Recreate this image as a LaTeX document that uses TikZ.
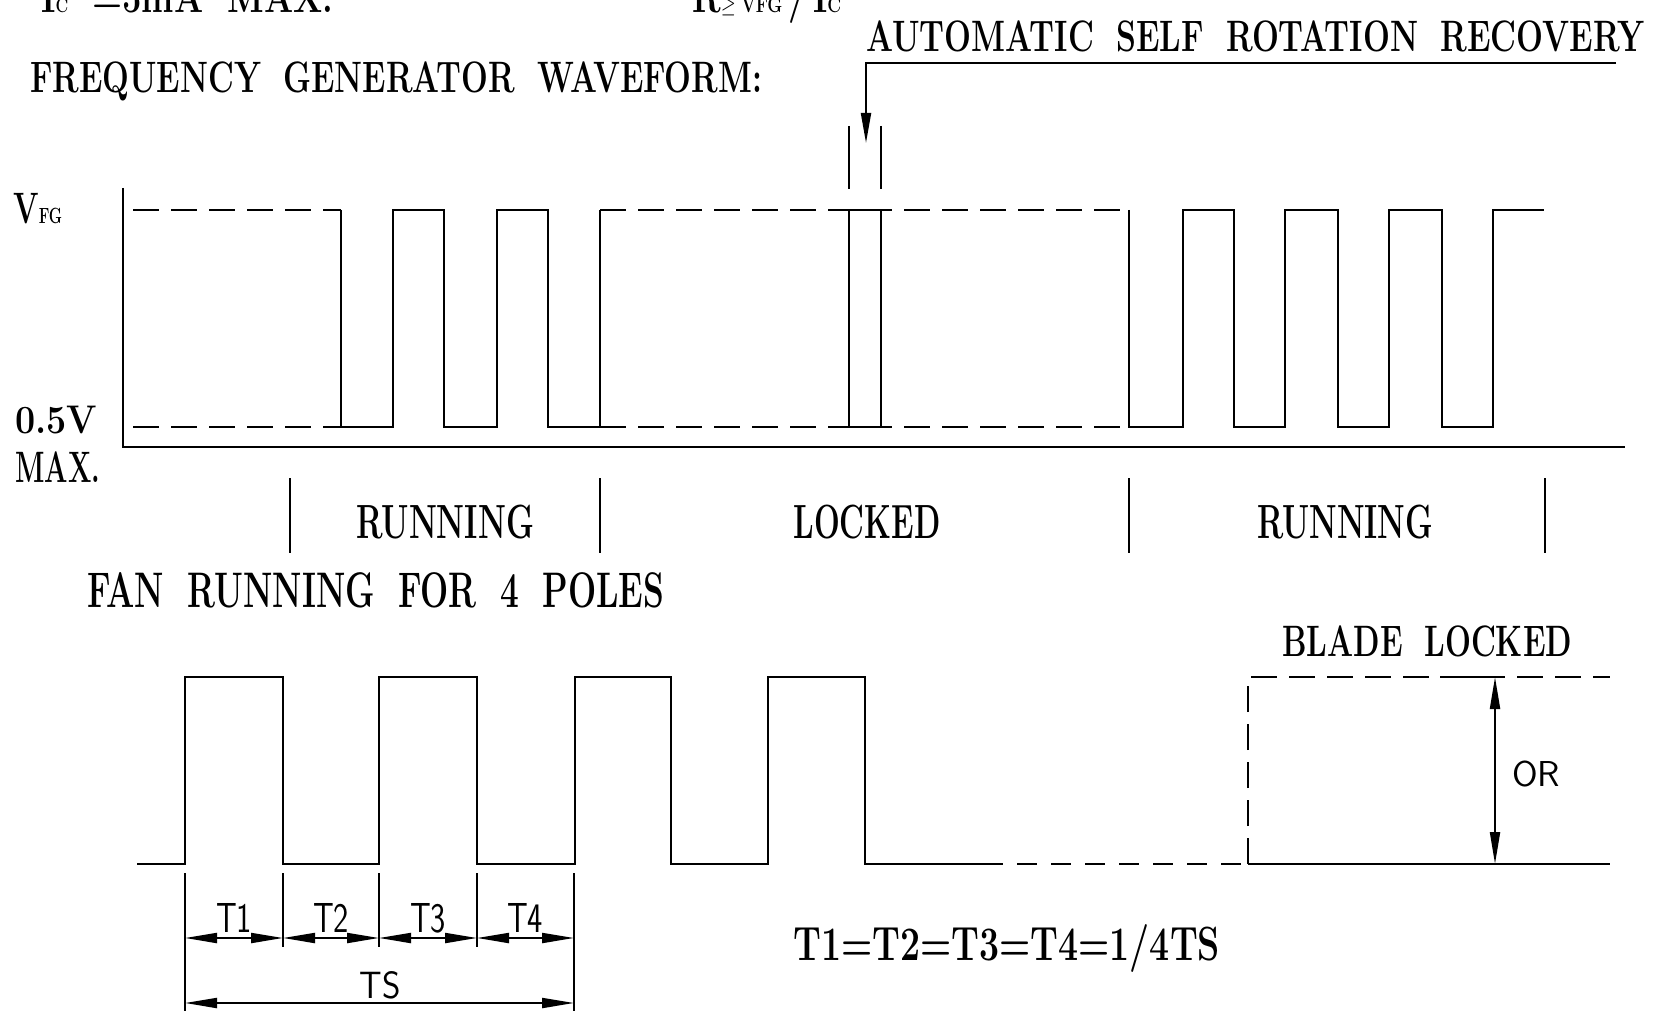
\documentclass[tikz,border=0pt]{standalone}
\usepackage{graphicx}
\usetikzlibrary{arrows.meta}
\newcommand{\fitw}[2]{\resizebox{#1pt}{\height}{#2}}
\newcommand{\ws}{\hspace{0.7em}}
\tikzset{
  wave/.style={line width=2pt},
  refline/.style={line width=2pt, dash pattern=on 26pt off 12pt},
  cadtxt/.style={inner sep=0pt, anchor=base west, font=\fontsize{44}{44}\selectfont\bfseries},
  cadlbl/.style={inner sep=0pt, anchor=base, font=\fontsize{48}{48}\selectfont\bfseries},
  dimtxt/.style={inner sep=0pt, anchor=base, font=\sffamily\fontsize{42}{42}\selectfont},
  dimarr/.style={line width=2pt, {Triangle[length=32pt,width=10pt]}-{Triangle[length=32pt,width=10pt]}}
}
\begin{document}
\begin{tikzpicture}[x=1pt,y=-1pt]
\useasboundingbox (0,0) rectangle (1665,1011);
\node[cadtxt] (icmax) at (41,13) {\fitw{292}{I{\fontsize{20}{20}\selectfont C}\ws =5mA\ws MAX.}};
\node[cadtxt] (rmin) at (692,13) {\fitw{149}{R$\geq$\,{\fontsize{22}{22}\selectfont VFG}\,/\,I{\fontsize{22}{22}\selectfont C}}};
\node[cadtxt] (title) at (30,93) {\fitw{732}{FREQUENCY\ws GENERATOR\ws WAVEFORM:}};
\node[cadtxt] (asr) at (866,52) {\fitw{778}{AUTOMATIC\ws SELF\ws ROTATION\ws RECOVERY}};
\coordinate (asrend) at (1616,63);
\coordinate (asrtip) at (866,143);
\draw[wave,-{Triangle[length=30pt,width=10pt]}] (asrend) -| (asrtip);
\draw[wave] (849,126) -- (849,189);
\draw[wave] (881,126) -- (881,189);
\node[cadtxt] (vfg) at (13,223) {\fitw{49}{V{\fontsize{22}{22}\selectfont FG}}};
\node[cadtxt, font=\fontsize{40}{40}\selectfont\bfseries] (vlow) at (15,433) {\fitw{82}{0.5V}};
\node[cadtxt] (vmax) at (15,482) {\fitw{85}{MAX.}};
\draw[line width=2.5pt] (123,188) -- (123,447) -- (1625,447);
\draw[refline] (133,210) -- (341,210);
\draw[refline] (133,427) -- (341,427);
\draw[refline] (600,210) -- (1129,210);
\draw[refline] (600,427) -- (1129,427);
\draw[wave] (341,210) -- (341,427) -- (393,427) -- (393,210) -- (444,210) -- (444,427) -- (497,427) -- (497,210) -- (548,210) -- (548,427) -- (600,427) -- (600,210);
\draw[wave] (849,210) rectangle (881,427);
\draw[wave] (1129,210) -- (1129,427) -- (1183,427) -- (1183,210) -- (1234,210) -- (1234,427) -- (1285,427) -- (1285,210) -- (1338,210) -- (1338,427) -- (1389,427) -- (1389,210) -- (1442,210) -- (1442,427) -- (1493,427) -- (1493,210) -- (1544,210);
\foreach \x in {290,600,1129,1545}
  \draw[wave] (\x,478) -- (\x,553);
\node[cadlbl] (run1) at (445,538) {\fitw{178}{RUNNING}};
\node[cadlbl] (lock) at (867,538) {\fitw{147}{LOCKED}};
\node[cadlbl] (run2) at (1345,538) {\fitw{176}{RUNNING}};
\node[cadtxt, font=\fontsize{50}{50}\selectfont\bfseries] (fan) at (87,607) {\fitw{577}{FAN\ws RUNNING\ws FOR\ws 4\ws POLES}};
\node[cadtxt] (blade) at (1282,656) {\fitw{290}{BLADE\ws LOCKED}};
\draw[wave] (137,864) -- (185,864) -- (185,677) -- (283,677) -- (283,864) -- (379,864) -- (379,677) -- (477,677) -- (477,864) -- (575,864) -- (575,677) -- (671,677) -- (671,864) -- (768,864) -- (768,677) -- (865,677) -- (865,864) -- (983,864);
\draw[refline, dash pattern=on 20pt off 14pt] (983,864) -- (1248,864);
\draw[wave] (1248,864) -- (1610,864);
\draw[refline] (1248,864) -- (1248,677) -- (1610,677);
\draw[wave] (1440,677) -- (1502,677);
\coordinate (orlow) at (1495,864);
\coordinate (orhigh) at (1495,677);
\draw[dimarr] (orlow) -- (orhigh);
\node[dimtxt, anchor=base west, font=\sffamily\fontsize{36}{36}\selectfont] (or) at (1512,786) {\fitw{48}{OR}};
\foreach \x in {283,379,477}
  \draw[wave] (\x,873) -- (\x,947);
\draw[wave] (185,873) -- (185,1011);
\draw[wave] (574,873) -- (574,1011);
\coordinate (t0) at (185,938);
\coordinate (t1) at (283,938);
\coordinate (t2) at (379,938);
\coordinate (t3) at (477,938);
\coordinate (t4) at (574,938);
\draw[dimarr] (t0) -- (t1);
\draw[dimarr] (t1) -- (t2);
\draw[dimarr] (t2) -- (t3);
\draw[dimarr] (t3) -- (t4);
\node[dimtxt] (lt1) at (234,932) {\fitw{36}{T1}};
\node[dimtxt] (lt2) at (331,932) {\fitw{36}{T2}};
\node[dimtxt] (lt3) at (428,932) {\fitw{36}{T3}};
\node[dimtxt] (lt4) at (525,932) {\fitw{36}{T4}};
\coordinate (ts0) at (185,1003);
\coordinate (ts1) at (574,1003);
\draw[dimarr] (ts0) -- (ts1);
\node[dimtxt, font=\sffamily\fontsize{38}{38}\selectfont] (lts) at (380,998) {\fitw{41}{TS}};
\node[cadlbl, anchor=base west] (formula) at (793,960) {\fitw{427}{T1=T2=T3=T4=1/4TS}};
\end{tikzpicture}
\end{document}
